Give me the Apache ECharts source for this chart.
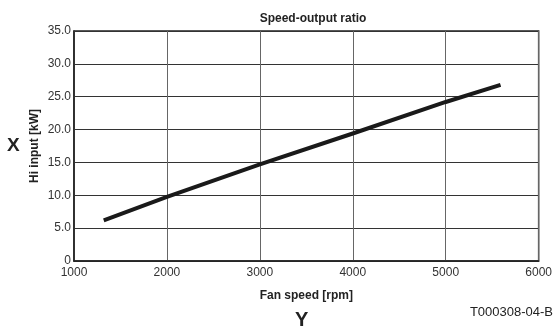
<!DOCTYPE html>
<html>
<head>
<meta charset="utf-8">
<script src="https://cdn.jsdelivr.net/npm/echarts@6/dist/echarts.min.js"></script>
<style>
  html, body { margin: 0; padding: 0; background: #fff; }
  #chart { width: 555px; height: 329px; }
</style>
</head>
<body>
<div id="chart"></div>
<script>
// Fan speed (rpm) against heat input (kW)
const fanSpeed = [1320, 2000, 3000, 4000, 5000, 5590];
const hiInput  = [6.2, 9.75, 14.7, 19.4, 24.2, 26.8];

const xTicks = [1000, 2000, 3000, 4000, 5000, 6000];
const yTicks = [0, 5, 10, 15, 20, 25, 30, 35];

const chartTitle = 'Speed-output ratio';
const xName = 'Fan speed [rpm]';
const yName = 'Hi input [kW]';
const docCode = 'T000308-04-B';

const FONT = '"Liberation Sans", Arial, sans-serif';

const chart = echarts.init(document.getElementById('chart'), null, { renderer: 'canvas' });

chart.setOption({
  animation: false,
  backgroundColor: '#ffffff',
  title: {
    text: chartTitle,
    left: 308,
    top: 8,
    textAlign: 'center',
    textStyle: { fontFamily: FONT, fontSize: 12, fontWeight: 'bold', color: '#222' }
  },
  grid: {
    left: 74, right: 13, top: 31, bottom: 68,
    show: true, borderColor: '#222', borderWidth: 1.5,
    containLabel: false
  },
  xAxis: {
    type: 'value',
    min: xTicks[0],
    max: xTicks[xTicks.length - 1],
    interval: 1000,
    name: xName,
    nameLocation: 'middle',
    nameGap: 29,
    nameMoveOverlap: false,
    nameTextStyle: { fontFamily: FONT, fontSize: 12, fontWeight: 'bold', color: '#222' },
    axisLine: { show: true, lineStyle: { color: '#222', width: 1.5 } },
    axisTick: { show: false },
    axisLabel: {
      fontFamily: FONT, fontSize: 12, color: '#333', margin: 6,
      formatter: v => String(v)
    },
    splitLine: { show: true, lineStyle: { color: '#666', width: 1 } }
  },
  yAxis: {
    type: 'value',
    min: yTicks[0],
    max: yTicks[yTicks.length - 1],
    interval: 5,
    name: yName,
    nameLocation: 'middle',
    nameGap: 33,
    nameMoveOverlap: false,
    nameTextStyle: { fontFamily: FONT, fontSize: 12, fontWeight: 'bold', color: '#222' },
    axisLine: { show: true, lineStyle: { color: '#222', width: 1.5 } },
    axisTick: { show: false },
    axisLabel: {
      fontFamily: FONT, fontSize: 12, color: '#333', margin: 3,
      formatter: v => (v === 0 ? '0' : v.toFixed(1))
    },
    splitLine: { show: true, lineStyle: { color: '#333', width: 1 } }
  },
  series: [{
    type: 'line',
    data: fanSpeed.map((x, i) => [x, hiInput[i]]),
    showSymbol: false,
    smooth: false,
    lineStyle: { color: '#1a1a1a', width: 4, cap: 'butt', join: 'round' }
  }],
  graphic: [
    {
      type: 'text', left: 7, top: 136,
      style: { text: 'X', font: 'bold 19px ' + FONT, fill: '#222' }
    },
    {
      type: 'text', left: 295, top: 310,
      style: { text: 'Y', font: 'bold 20px ' + FONT, fill: '#222' }
    },
    {
      type: 'text', right: 2, top: 306,
      style: { text: docCode, font: '13px ' + FONT, fill: '#222' }
    }
  ]
});
</script>
</body>
</html>
